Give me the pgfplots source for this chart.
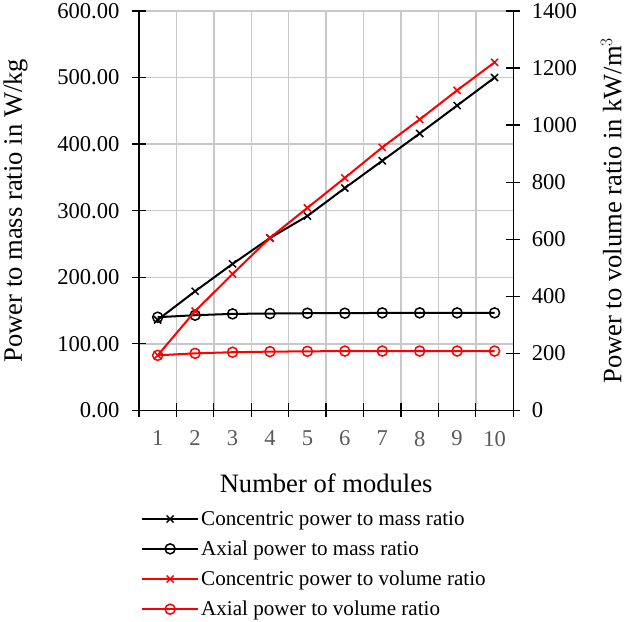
\documentclass[border=0pt]{standalone}
\usepackage{pgfplots}
\pgfplotsset{compat=1.18}
\usepackage{fontspec}
\setmainfont{Liberation Serif}
\definecolor{gridgray}{HTML}{C8C8C8}
\definecolor{ticklab}{HTML}{595959}
\pgfplotstableread{
x cm am cv av
1 136 140 193 193
2 179 143 348 200
3 220 145 478 204
4 259 145.5 605 206
5 292 146 710 207
6 334 146 815 208
7 375 146.5 922 208
8 416 146.5 1020 208
9 458 146.5 1122 208
10 500 146.5 1220 208
}\data
\pgfplotsset{
  base/.style={
    scale only axis, width=373pt, height=398pt,
    xmin=0.5, xmax=10.5,
    major tick length=14pt,
    tick align=center,
    axis line style={-, line width=1.3pt},
    tick style={black, line width=1.3pt},
    /pgf/number format/assume math mode=true,
    /pgf/number format/1000 sep={},
    tick label style={font=\fontsize{22.5}{26}\selectfont},
    every axis plot/.append style={line width=2pt, mark size=5pt, mark options={solid, line width=1.5pt}},
  }
}
\begin{document}
\begin{tikzpicture}
% grid, boundary ticks, left axis
\begin{axis}[base,
  axis x line*=bottom, axis y line*=left,
  ymin=0, ymax=600, ytick={0,100,200,300,400,500,600},
  yticklabel style={/pgf/number format/fixed, /pgf/number format/zerofill, /pgf/number format/precision=2, xshift=-9pt},
  xtick={0.5,1.5,2.5,3.5,4.5,5.5,6.5,7.5,8.5,9.5,10.5},
  xticklabels={},
  xmajorgrids, ymajorgrids,
  major grid style={draw=gridgray, line width=1.4pt},
  ylabel={Power to mass ratio in W/kg},
  every axis y label/.style={at={(axis description cs:-0.33,0.5)}, rotate=90, anchor=center, font=\fontsize{26.5}{30}\selectfont},
]
\addplot[black, mark=x] table[x=x,y=cm]{\data};
\addplot[black, mark=o] table[x=x,y=am]{\data};
\end{axis}
% category labels
\begin{axis}[base,
  axis x line*=bottom, axis y line=none,
  axis line style={draw=none},
  ymin=0, ymax=600,
  xtick={1,2,3,4,5,6,7,8,9,10},
  major tick length=0pt,
  xticklabel style={text=ticklab, yshift=-17pt},
  xlabel={Number of modules},
  every axis x label/.style={at={(axis description cs:0.5,-0.182)}, anchor=center, font=\fontsize{26.5}{30}\selectfont},
]
\end{axis}
% right axis
\begin{axis}[base,
  axis x line=none, axis y line*=right,
  ymin=0, ymax=1400, ytick={0,200,400,600,800,1000,1200,1400},
  yticklabel style={xshift=8pt},
  xtick=\empty,
  ylabel={Power to volume ratio in kW/m$^3$},
  every axis y label/.style={at={(axis description cs:1.262,0.5)}, rotate=90, anchor=center, font=\fontsize{26.5}{30}\selectfont},
  legend style={draw=none, fill=none, at={(0.005,-0.242)}, anchor=north west,
    font=\fontsize{21}{24}\selectfont, row sep=10pt, inner xsep=0pt,
    /tikz/every even column/.append style={column sep=2pt}},
  legend cell align=left,
  legend image code/.code={\draw[line width=2pt, mark size=5pt, #1, mark repeat=2, mark phase=2] plot coordinates {(0pt,0pt) (28pt,0pt) (56pt,0pt)};},
]
\addlegendimage{black, mark=x, mark options={solid, line width=1.5pt}}
\addlegendentry{Concentric power to mass ratio}
\addlegendimage{black, mark=o, mark options={solid, line width=1.5pt}}
\addlegendentry{Axial power to mass ratio}
\addplot[red, mark=x] table[x=x,y=cv]{\data};
\addlegendentry{Concentric power to volume ratio}
\addplot[red, mark=o] table[x=x,y=av]{\data};
\addlegendentry{Axial power to volume ratio}
\end{axis}
\end{tikzpicture}
\end{document}
